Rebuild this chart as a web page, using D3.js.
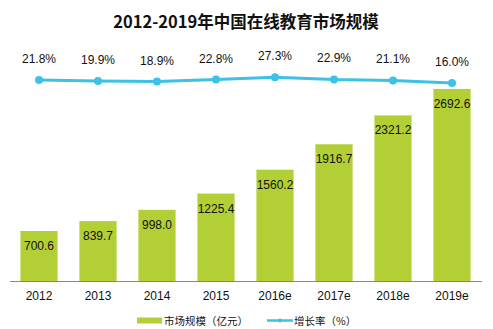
<!DOCTYPE html>
<html><head><meta charset="utf-8">
<script src="https://cdn.jsdelivr.net/npm/d3@7/dist/d3.min.js"></script>
<style>
html,body{margin:0;padding:0;background:#fff;}
svg{display:block;}
text{font-family:"Liberation Sans Narrow","Liberation Sans","Noto Sans CJK SC",sans-serif;}
</style></head>
<body>
<svg id="c" width="493" height="329"></svg>
<script>
const title = "2012-2019年中国在线教育市场规模";
const categories = ["2012","2013","2014","2015","2016e","2017e","2018e","2019e"];
const marketSize = [700.6, 839.7, 998.0, 1225.4, 1560.2, 1916.7, 2321.2, 2692.6];
const growthRate = [21.8, 19.9, 18.9, 22.8, 27.3, 22.9, 21.1, 16.0];
const legendLabels = ["市场规模（亿元）", "增长率（%）"];

const barColor = "#B2CF35";
const lineColor = "#3CC2E6";
const cjk = '"Noto Sans CJK SC",sans-serif';

const svg = d3.select("#c");

const x = d3.scaleBand().domain(categories).range([9.5, 481.5]).paddingInner(0.37).paddingOuter(0.185);
const y = d3.scaleLinear().domain([0, 3000]).range([281, 67]);
const y2 = d3.scaleLinear().domain([0, 30]).range([91.6, 75.7]);

// title
svg.append("text").attr("x", 246).attr("y", 28).attr("text-anchor", "middle")
  .style("font-family", cjk).style("font-weight", "bold").style("font-size", "16.5px")
  .attr("fill", "#111").text(title);

// bars
svg.selectAll("rect.bar").data(marketSize).join("rect").attr("class", "bar")
  .attr("x", (d, i) => x(categories[i])).attr("width", x.bandwidth())
  .attr("y", d => y(d)).attr("height", d => y(0) - y(d)).attr("fill", barColor);

svg.selectAll("text.bl").data(marketSize).join("text").attr("class", "bl")
  .attr("x", (d, i) => x(categories[i]) + x.bandwidth() / 2)
  .attr("y", d => y(d) + 19).attr("text-anchor", "middle")
  .style("font-size", "12px").attr("fill", "#111").text(d => d.toFixed(1));

// x axis
const xAxis = d3.axisBottom(x).tickSize(0).tickPadding(10);
const ga = svg.append("g").attr("transform", "translate(0,281)").call(xAxis);
ga.select(".domain").attr("stroke", "#888").attr("stroke-width", 1);
ga.selectAll("text").style("font-size", "12px").attr("fill", "#111")
  .style("font-family", '"Liberation Sans Narrow","Liberation Sans",sans-serif');

// line
const line = d3.line().x((d, i) => x(categories[i]) + x.bandwidth() / 2).y(d => y2(d));
svg.append("path").datum(growthRate).attr("d", line).attr("fill", "none")
  .attr("stroke", lineColor).attr("stroke-width", 3);
svg.selectAll("circle.pt").data(growthRate).join("circle").attr("class", "pt")
  .attr("cx", (d, i) => x(categories[i]) + x.bandwidth() / 2).attr("cy", d => y2(d))
  .attr("r", 4).attr("fill", lineColor);
svg.selectAll("text.pl").data(growthRate).join("text").attr("class", "pl")
  .attr("x", (d, i) => x(categories[i]) + x.bandwidth() / 2)
  .attr("y", d => y2(d) - 17).attr("text-anchor", "middle")
  .style("font-size", "12px").attr("fill", "#111").text(d => d.toFixed(1) + "%");

// legend
const lg = svg.append("g");
lg.append("rect").attr("x", 137).attr("y", 317.5).attr("width", 25).attr("height", 6).attr("fill", barColor);
lg.append("text").attr("x", 164).attr("y", 324.5).style("font-family", cjk).style("font-size", "10.5px")
  .attr("fill", "#111").text(legendLabels[0]);
lg.append("line").attr("x1", 267).attr("x2", 293).attr("y1", 320.5).attr("y2", 320.5)
  .attr("stroke", lineColor).attr("stroke-width", 2.5);
lg.append("circle").attr("cx", 280).attr("cy", 320.5).attr("r", 2).attr("fill", lineColor);
lg.append("text").attr("x", 294).attr("y", 324.5).style("font-family", cjk).style("font-size", "10.5px")
  .attr("fill", "#111").text(legendLabels[1]);
</script>
</body></html>
